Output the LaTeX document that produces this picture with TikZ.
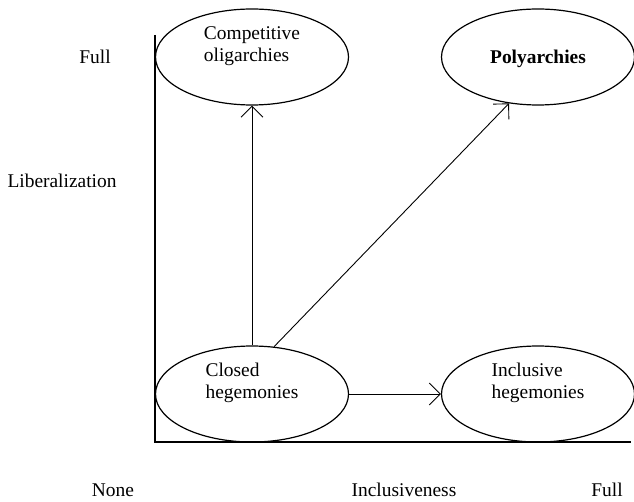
\documentclass[tikz,border=0pt]{standalone}
\usepackage{fontspec}
\setmainfont{Liberation Serif}
\usetikzlibrary{shapes.geometric,arrows.meta}

\tikzset{
  regime/.style={ellipse, draw, line width=1.2bp, minimum width=193bp, minimum height=96bp, inner sep=0pt},
  intext/.style={align=left, inner sep=0pt, font=\fontsize{19.5}{22.5}\selectfont},
  axtext/.style={inner sep=0pt, font=\fontsize{19.5}{22.5}\selectfont},
  move/.style={line width=0.9bp, -{Straight Barb[length=11bp,width=22bp,line width=0.9bp]}}
}

\begin{document}
\begin{tikzpicture}[x=1bp, y=-1bp]
\useasboundingbox (0,0) rectangle (634,502);

% axes
\coordinate (top) at (155,35);
\coordinate (origin) at (155,442);
\coordinate (right) at (631,442);
\draw[line width=1.8bp] (top) -- (origin) -- (right);

% the four regimes
\node[regime] (comp) at (252,57) {};
\node[regime] (poly) at (538,57) {};
\node[regime] (closed) at (252,394) {};
\node[regime] (incl) at (538,394) {};

\node[intext] at ([yshift=11bp]comp) {Competitive\\oligarchies};
\node[intext, font=\fontsize{19.5}{22.5}\selectfont\bfseries] at ([yshift=-2bp]poly) {Polyarchies};
\node[intext] at ([yshift=11bp]closed) {Closed\\hegemonies};
\node[intext] at ([yshift=11bp]incl) {Inclusive\\hegemonies};

% paths
\draw[move] (closed.north) -- (comp.south);
\draw[move] (closed.65) -- (poly.238);
\draw[move] (closed.east) -- (incl.west);

% axis labels
\node[axtext] (full1) at (95,57) {Full};
\node[axtext] (lib) at (62,181) {Liberalization};
\node[axtext] (none) at (113,490) {None};
\node[axtext] (incax) at (404,490) {Inclusiveness};
\node[axtext] (full2) at (607,490) {Full};

\end{tikzpicture}
\end{document}
